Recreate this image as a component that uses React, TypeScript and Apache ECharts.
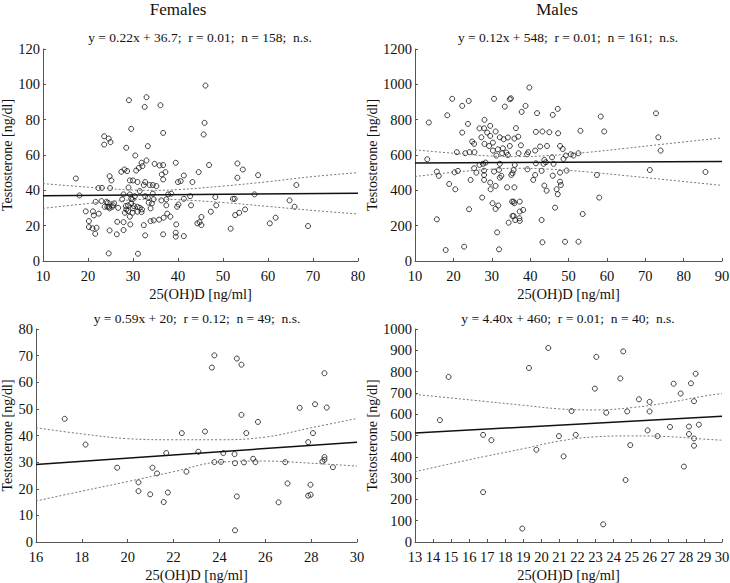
import React, { useEffect, useRef } from "react";
import * as echarts from "echarts";

const FONT = "'Liberation Serif', 'Times New Roman', Times, serif";

// ---------- Panel texts ----------
const groupTitles = ["Females", "Males"];
const subtitles = [
  "y = 0.22x + 36.7;  r = 0.01;  n = 158;  n.s.",
  "y = 0.12x + 548;  r = 0.01;  n = 161;  n.s.",
  "y = 0.59x + 20;  r = 0.12;  n = 49;  n.s.",
  "y = 4.40x + 460;  r = 0.01;  n = 40;  n.s.",
];
const xName = "25(OH)D [ng/ml]";
const yName = "Testosterone [ng/dl]";

// ---------- Females (top-left) ----------
const femalePoints: number[][] = [
  [17.3, 46.7], [18.1, 37.1], [19.5, 28.1], [20.2, 22.6], [20.2, 19.2], [21.0, 18.5], [21.1, 28.1], [21.3, 25.8],
  [21.6, 15.4], [21.7, 33.5], [21.9, 18.8], [22.3, 41.3], [22.4, 26.8], [23.1, 41.4], [23.0, 33.9], [23.6, 70.6],
  [23.6, 65.9], [23.7, 30.7], [24.1, 33.5], [24.6, 69.3], [25.0, 67.3], [24.8, 48.0], [24.9, 41.3], [25.2, 45.6],
  [24.4, 33.0], [24.7, 30.7], [24.8, 17.3], [24.6, 4.3], [25.4, 30.7], [24.8, 29.8], [26.5, 22.2], [26.4, 15.1],
  [26.7, 30.1], [27.4, 50.5], [28.1, 51.8], [27.9, 37.7], [27.9, 22.0], [27.9, 17.5], [28.5, 64.1], [28.7, 50.9],
  [28.4, 31.1], [28.5, 29.2], [28.9, 31.5], [29.1, 91.0], [29.3, 45.6], [29.0, 41.6], [29.3, 37.7], [28.9, 28.3],
  [29.3, 25.1], [29.6, 74.8], [29.6, 35.2], [29.4, 20.7], [30.0, 45.6], [29.9, 34.9], [30.0, 29.8], [30.2, 31.1],
  [30.5, 59.7], [30.7, 51.2], [31.0, 44.7], [31.0, 30.7], [31.0, 27.9], [31.1, 4.1], [31.3, 52.7], [31.5, 39.6],
  [31.9, 27.7], [32.0, 29.2], [32.1, 53.7], [31.9, 55.6], [32.4, 43.0], [32.6, 87.2], [32.7, 44.7], [32.7, 36.7],
  [33.0, 92.7], [33.0, 56.9], [32.4, 20.3], [32.7, 14.5], [33.3, 65.0], [33.7, 43.0], [33.9, 29.8], [33.9, 22.6],
  [34.2, 32.6], [34.4, 38.1], [34.4, 43.0], [34.6, 34.9], [34.6, 23.0], [34.8, 55.0], [35.8, 23.4], [35.9, 54.1],
  [36.1, 88.2], [36.3, 34.3], [36.4, 49.0], [36.7, 54.3], [36.7, 46.2], [36.7, 72.5], [36.7, 15.1], [36.8, 24.5],
  [37.2, 50.3], [37.4, 34.9], [37.4, 31.5], [37.6, 26.8], [37.8, 37.7], [38.3, 25.1], [38.5, 38.1], [39.5, 55.6],
  [39.6, 20.7], [39.5, 16.0], [39.5, 13.8], [40.0, 44.7], [39.8, 30.7], [40.1, 32.0], [40.6, 45.2], [41.3, 48.4],
  [41.3, 35.2], [41.3, 14.1], [42.7, 36.7], [42.9, 31.5], [43.2, 44.7], [44.6, 50.3], [44.3, 21.3], [44.8, 22.0],
  [45.2, 24.9], [45.2, 20.3], [45.7, 71.6], [45.9, 78.2], [46.1, 99.3], [46.9, 54.3], [47.3, 27.9], [48.3, 36.2],
  [48.5, 31.5], [51.7, 18.3], [52.2, 35.2], [52.6, 35.2], [52.7, 26.0], [53.2, 55.2], [53.2, 47.1], [53.6, 27.3],
  [54.4, 51.8], [54.9, 29.2], [57.0, 37.7], [57.8, 48.6], [60.4, 21.3], [61.7, 24.5], [64.8, 34.3], [65.9, 30.7],
  [66.3, 43.0], [68.9, 19.8], [25.8, 32.6], [24.3, 30.7], [27.6, 34.9], [29.6, 32.6], [30.4, 36.7], [31.5, 30.1],
  [33.3, 35.8], [35.2, 42.4], [28.2, 27.3], [25.6, 31.5], [29.9, 27.3], [33.5, 33.0],
];
const femaleFit = [[10, 37.0], [80, 38.3]];
const femaleBandX = [10, 20, 30, 35, 40, 50, 60, 70, 80];
const femaleBandUpper = [43.8, 41.8, 40.2, 40.0, 40.4, 42.4, 44.9, 47.8, 50.0];
const femaleBandLower = [29.8, 32.5, 34.6, 35.0, 34.7, 33.1, 30.9, 28.6, 26.6];

// ---------- Males (top-right) ----------
const malePoints: number[][] = [
  [13.2, 576], [19.7, 918], [18.4, 825], [13.6, 784], [24.0, 906], [22.3, 878], [30.6, 918], [34.7, 916],
  [33.4, 874], [23.8, 776], [28.1, 799], [22.3, 727], [26.8, 751], [28.0, 751], [29.6, 765], [28.8, 727],
  [31.0, 733], [32.1, 700], [29.6, 708], [27.3, 700], [30.3, 670], [33.1, 689], [34.2, 699], [24.9, 676],
  [25.4, 663], [28.1, 663], [29.3, 651], [34.7, 651], [32.9, 638], [31.6, 632], [30.3, 625], [33.8, 614],
  [34.2, 600], [32.7, 610], [31.2, 597], [20.9, 616], [23.1, 610], [24.2, 616], [25.5, 616], [26.8, 544],
  [27.7, 550], [28.4, 557], [32.1, 550], [25.4, 525], [26.0, 500], [28.0, 511], [30.6, 506], [31.9, 516],
  [15.7, 506], [16.2, 482], [20.3, 502], [21.2, 510], [35.1, 487], [28.0, 487], [32.1, 472], [32.5, 482],
  [24.5, 459], [28.0, 459], [29.6, 444], [31.0, 425], [29.7, 406], [34.0, 417], [18.9, 436], [20.5, 406],
  [27.5, 359], [30.2, 327], [31.7, 314], [31.0, 295], [35.3, 336], [35.4, 255], [24.1, 293], [15.7, 236],
  [34.4, 217], [31.4, 162], [18.0, 62], [22.8, 81], [31.9, 66],
  [39.8, 982], [35.0, 921], [38.8, 878], [37.8, 844], [41.8, 837], [47.2, 861], [45.9, 827], [58.4, 818],
  [36.3, 752], [36.9, 704], [35.9, 693], [41.5, 731], [43.2, 733], [45.0, 729], [47.3, 723], [53.1, 737],
  [59.3, 733], [37.6, 655], [42.6, 648], [44.4, 651], [47.8, 651], [48.5, 634], [37.0, 610], [39.2, 604],
  [39.5, 616], [41.3, 625], [45.7, 587], [49.3, 597], [50.6, 604], [51.3, 597], [52.6, 610], [48.7, 578],
  [43.7, 572], [44.1, 559], [43.5, 550], [41.5, 553], [46.1, 550], [36.0, 544], [35.7, 515], [35.4, 497],
  [39.3, 519], [43.0, 510], [47.8, 500], [49.5, 512], [41.3, 487], [45.9, 483], [40.8, 459], [43.7, 427],
  [44.3, 398], [47.8, 449], [48.0, 430], [46.9, 406], [47.2, 378], [57.4, 487], [58.0, 359], [35.9, 417],
  [35.7, 336], [35.9, 327], [37.3, 336], [38.2, 289], [37.3, 280], [35.7, 255], [36.1, 232], [37.2, 242],
  [37.3, 227], [46.5, 302], [43.0, 232], [53.7, 266], [43.2, 106], [49.1, 109], [52.6, 109],
  [72.8, 836], [73.4, 700], [74.0, 625], [71.2, 515], [85.7, 504],
];
const maleFit = [[10, 555], [90, 563]];
const maleBandX = [10, 20, 30, 37, 45, 55, 65, 75, 90];
const maleBandUpper = [629, 610, 594, 591, 597, 615, 638, 662, 697];
const maleBandLower = [478, 502, 520, 525, 520, 504, 483, 461, 428];

// ---------- Bottom-left subgroup ----------
const subFPoints: number[][] = [
  [17.25, 46.25], [18.16, 36.6], [19.54, 27.9], [20.47, 22.4], [20.47, 19.1], [20.98, 17.9], [21.08, 27.9],
  [21.28, 25.75], [21.57, 15.0], [21.75, 18.6], [21.68, 33.4], [22.36, 40.9], [22.56, 26.4], [23.08, 33.9],
  [23.37, 41.5], [23.67, 65.5], [23.78, 70.1], [23.78, 30.0], [24.07, 30.1], [24.17, 33.4], [24.66, 33.0],
  [24.68, 29.6], [24.68, 4.4], [24.76, 68.9], [24.76, 17.1], [24.96, 66.6], [24.96, 47.75], [25.07, 29.9],
  [25.17, 40.9], [25.47, 31.25], [25.57, 30.0], [25.68, 45.1], [26.58, 14.9], [26.87, 30.0], [26.97, 22.0],
  [27.5, 50.4], [27.87, 37.5], [27.87, 17.4], [27.97, 21.5], [27.98, 17.75], [28.08, 40.9], [28.17, 51.75],
  [28.49, 30.25], [28.58, 63.4], [28.58, 31.9], [28.58, 30.9], [28.68, 50.5], [28.95, 28.1],
];
const subFFit = [[16, 29.1], [30, 37.5]];
const subFBandX = [16, 18, 20, 22, 24, 26, 28, 30];
const subFBandUpper = [42.9, 40.6, 38.8, 38.4, 38.4, 39.4, 42.9, 46.4];
const subFBandLower = [15.4, 19.1, 22.7, 26.4, 30.0, 30.4, 29.6, 28.5];

// ---------- Bottom-right subgroup ----------
const subMPoints: number[][] = [
  [14.86, 775], [14.38, 572], [16.77, 503], [17.23, 478], [16.77, 234], [18.94, 63], [19.31, 817], [20.38, 911],
  [19.72, 433], [20.97, 497], [21.9, 503], [21.23, 402], [21.67, 615], [23.04, 869], [22.96, 720], [24.53, 895],
  [24.37, 768], [23.59, 607], [23.42, 83], [24.66, 291], [24.92, 455], [24.75, 613], [25.4, 670], [25.99, 658],
  [25.99, 613], [25.88, 524], [26.43, 497], [27.12, 540], [27.32, 743], [27.71, 697], [28.28, 745], [28.54, 790],
  [28.45, 661], [28.17, 542], [28.17, 507], [28.45, 486], [28.45, 452], [28.72, 551], [27.89, 354],
];
const subMFit = [[13, 512], [30, 590]];
const subMBandX = [13, 15, 17, 19, 21, 23, 25, 27, 29, 30];
const subMBandUpper = [693, 676, 659, 642, 625, 620, 631, 654, 685, 697];
const subMBandLower = [330, 368, 404, 438, 474, 494, 498, 495, 483, 478];

// ---------- Axis ranges ----------
const xRanges = [
  { min: 10, max: 80, interval: 10 },
  { min: 10, max: 90, interval: 10 },
  { min: 16, max: 30, interval: 2 },
  { min: 13, max: 30, interval: 1 },
];
const yRanges = [
  { min: 0, max: 120, interval: 20 },
  { min: 0, max: 1200, interval: 200 },
  { min: 0, max: 80, interval: 10 },
  { min: 0, max: 1000, interval: 100 },
];

const grids = [
  { left: 43, top: 49, width: 315, height: 212 },
  { left: 415, top: 49, width: 307, height: 212 },
  { left: 36, top: 329, width: 321, height: 213 },
  { left: 415, top: 329, width: 307, height: 213 },
];
const yNameGaps = [27, 28, 21, 28];

const pair = (xs: number[], ys: number[]) => xs.map((x, i) => [x, ys[i]]);

const panelData = [
  { pts: femalePoints, fit: femaleFit, bx: femaleBandX, bu: femaleBandUpper, bl: femaleBandLower },
  { pts: malePoints, fit: maleFit, bx: maleBandX, bu: maleBandUpper, bl: maleBandLower },
  { pts: subFPoints, fit: subFFit, bx: subFBandX, bu: subFBandUpper, bl: subFBandLower },
  { pts: subMPoints, fit: subMFit, bx: subMBandX, bu: subMBandUpper, bl: subMBandLower },
];

function buildOption() {
  const axisLine = { show: true, lineStyle: { color: "#555", width: 1 } };
  const xAxis = xRanges.map((r, i) => ({
    type: "value",
    gridIndex: i,
    min: r.min,
    max: r.max,
    interval: r.interval,
    name: xName,
    nameLocation: "middle",
    nameGap: 25,
    nameTextStyle: { fontFamily: FONT, fontSize: 14.5, color: "#111" },
    axisLine,
    axisTick: { show: true, inside: true, length: 3, lineStyle: { color: "#555" } },
    axisLabel: {
      fontFamily: FONT, fontSize: 14.5, color: "#111", margin: 7,
      showMinLabel: true, showMaxLabel: true,
      formatter: (v: number) => String(v),
    },
    splitLine: { show: false },
  }));
  const yAxis = yRanges.map((r, i) => ({
    type: "value",
    gridIndex: i,
    min: r.min,
    max: r.max,
    interval: r.interval,
    name: yName,
    nameLocation: "middle",
    nameGap: yNameGaps[i],
    nameTextStyle: { fontFamily: FONT, fontSize: 14, color: "#111" },
    axisLine,
    axisTick: { show: true, inside: true, length: 3, lineStyle: { color: "#555" } },
    axisLabel: {
      fontFamily: FONT, fontSize: 14.5, color: "#111", margin: 3,
      showMinLabel: true, showMaxLabel: true,
      formatter: (v: number) => String(v),
    },
    splitLine: { show: false },
  }));
  const series: any[] = [];
  panelData.forEach((p, i) => {
    series.push({
      type: "line",
      xAxisIndex: i,
      yAxisIndex: i,
      data: pair(p.bx, p.bu),
      smooth: 0.4,
      symbol: "none",
      silent: true,
      lineStyle: { color: "#777", width: 1, type: [2, 2] },
    });
    series.push({
      type: "line",
      xAxisIndex: i,
      yAxisIndex: i,
      data: pair(p.bx, p.bl),
      smooth: 0.4,
      symbol: "none",
      silent: true,
      lineStyle: { color: "#777", width: 1, type: [2, 2] },
    });
    series.push({
      type: "line",
      xAxisIndex: i,
      yAxisIndex: i,
      data: p.fit,
      symbol: "none",
      silent: true,
      lineStyle: { color: "#111", width: 1.5 },
    });
    series.push({
      type: "scatter",
      xAxisIndex: i,
      yAxisIndex: i,
      data: p.pts,
      symbol: "circle",
      symbolSize: 5,
      itemStyle: { color: "rgba(0,0,0,0)", borderColor: "#111", borderWidth: 1 },
    });
  });

  const text = (t: string, x: number, y: number, size: number) => ({
    type: "text",
    x,
    y,
    silent: true,
    style: {
      text: t,
      fontFamily: FONT,
      fontSize: size,
      fill: "#111",
      align: "center",
      verticalAlign: "middle",
      textAlign: "center",
      textVerticalAlign: "middle",
    },
  });

  return {
    animation: false,
    backgroundColor: "#fff",
    grid: grids.map((g) => ({ ...g, containLabel: false, outerBoundsMode: "none" })),
    xAxis,
    yAxis,
    series,
    graphic: [
      text(groupTitles[0], 178, 9, 17),
      text(groupTitles[1], 557, 9, 17),
      text(subtitles[0], 200, 37, 13.5),
      text(subtitles[1], 568, 37, 13.5),
      text(subtitles[2], 197, 318, 13.5),
      text(subtitles[3], 568, 318, 13.5),
    ],
  };
}

export default function App() {
  const ref = useRef<HTMLDivElement>(null);
  useEffect(() => {
    const chart = echarts.init(ref.current!, null, { renderer: "svg" });
    chart.setOption(buildOption() as any);
    return () => chart.dispose();
  }, []);
  return (
    <div
      ref={ref}
      style={{ position: "absolute", left: 0, top: 0, width: 730, height: 583, background: "#fff" }}
    />
  );
}
